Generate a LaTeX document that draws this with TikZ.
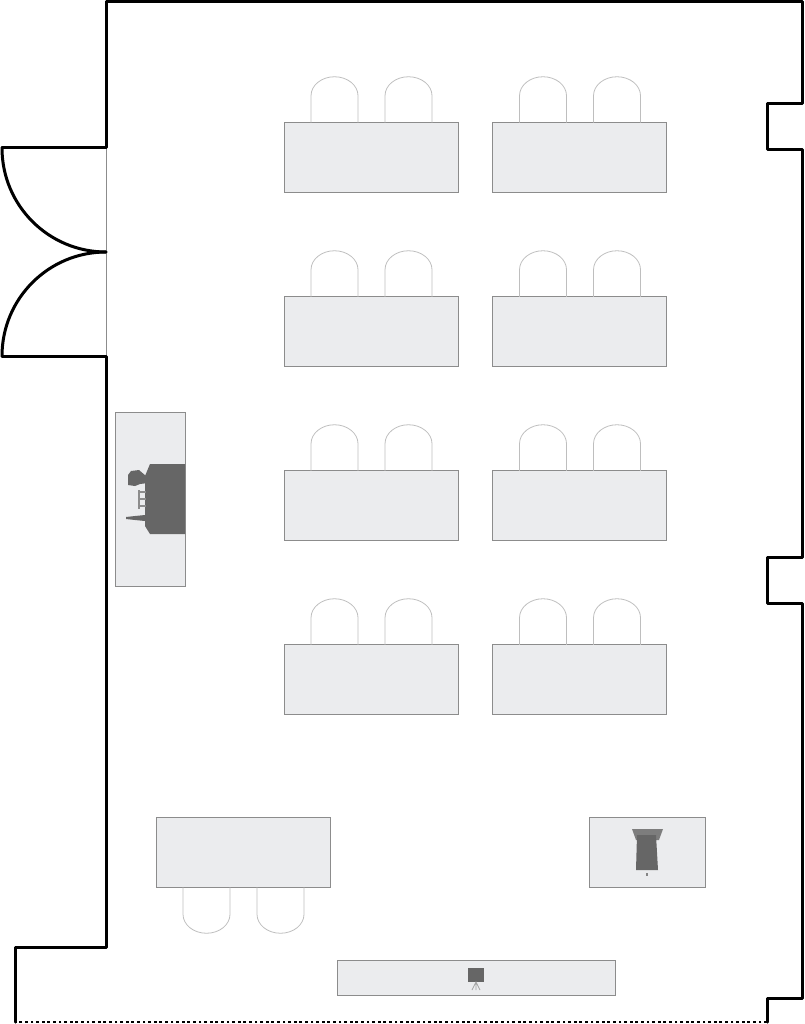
\documentclass[tikz,border=0pt]{standalone}
\usetikzlibrary{positioning}
\definecolor{tablefill}{HTML}{EBECEE}
\definecolor{tableedge}{HTML}{8C8C8C}
\definecolor{chairedge}{HTML}{BEBEBE}
\definecolor{icongrey}{HTML}{666666}
\tikzset{
  wall/.style = {draw=black, line width=3pt, line join=round, line cap=round},
  base/.style = {
    rectangle, draw=tableedge, fill=tablefill, line width=0.9pt,
    inner sep=0pt, outer sep=0pt
  },
  desk/.style = {base, minimum width=174pt, minimum height=69.5pt},
  chair/.style = {draw=chairedge, line width=0.8pt},
  icon/.style = {fill=icongrey, draw=none},
  chairs/.pic = {
    \draw[chair] (-60,0) -- (-60,-27) arc[start angle=180, end angle=0, x radius=23.5, y radius=-19] -- (-13,0);
    \draw[chair] (14,0) -- (14,-27) arc[start angle=180, end angle=0, x radius=23.5, y radius=-19] -- (61,0);
  },
}
\begin{document}
\begin{tikzpicture}[x=1pt, y=-1pt, node distance=174pt]
  \useasboundingbox (0,0) rectangle (804,1024);
  % walls
  \draw[tableedge, line width=0.9pt] (106,148) -- (106,356);
  \draw[wall] (2,148) -- (106,148) -- (106,1.5) -- (802.5,1.5) -- (802.5,104) -- (767,104) -- (767,150)
    -- (802.5,150) -- (802.5,557) -- (767,557) -- (767,603) -- (802.5,603) -- (802.5,998) -- (767,998) -- (767,1022);
  \draw[wall] (15,1022) -- (15,947) -- (106,947) -- (106,356) -- (2,356);
  \draw[black, line width=2.6pt, dash pattern=on 2.8pt off 2.8pt] (767,1022) -- (15,1022);
  % doors
  \draw[wall] (2,148) arc[start angle=180, end angle=270, x radius=104, y radius=-104];
  \draw[wall] (2,356) arc[start angle=180, end angle=90, x radius=104, y radius=-104];
  % desks
  \node (d11) [desk] at (371,157.5) {};
  \node (d12) [desk, right of=d11, node distance=208.5pt] {};
  \node (d21) [desk, below of=d11] {};
  \node (d22) [desk, right of=d21, node distance=208.5pt] {};
  \node (d31) [desk, below of=d21] {};
  \node (d32) [desk, right of=d31, node distance=208.5pt] {};
  \node (d41) [desk, below of=d31] {};
  \node (d42) [desk, right of=d41, node distance=208.5pt] {};
  \node (teacher) [desk] at (243,852.5) {};
  \node (side) [base, minimum width=69.5pt, minimum height=174pt] at (150.5,499) {};
  \node (lectern) [base, minimum width=116pt, minimum height=69.5pt] at (647,852.5) {};
  \node (screen) [base, minimum width=278pt, minimum height=35pt] at (476,977.5) {};
  % chairs
  \pic at (d11.north) {chairs};
  \pic at (d12.north) {chairs};
  \pic at (d21.north) {chairs};
  \pic at (d22.north) {chairs};
  \pic at (d31.north) {chairs};
  \pic at (d32.north) {chairs};
  \pic at (d41.north) {chairs};
  \pic at (d42.north) {chairs};
  \pic[yscale=-1] at (teacher.south) {chairs};
  % equipment on the side table
  \fill[icon] (150,464) -- (185,464) -- (185,534) -- (150,534) -- (145,526) -- (145,476) -- cycle;
  \fill[icon] (128,475) -- (131,471) -- (139,470) -- (146,476) -- (148,483) -- (140,484) -- (135,486) -- (128,485) -- cycle;
  \draw[icongrey!75, line width=2pt] (138,492) -- (146,492) (138,499) -- (146,499) (138,506) -- (146,506);
  \draw[icongrey!75, line width=2pt] (139,490) -- (139,509);
  \fill[icon] (126,517) -- (135,516) -- (145,515) -- (145,521) -- (135,520) -- (126,519) -- cycle;
  % lectern
  \fill[icongrey!85] (632,829) -- (663,829) -- (659,840) -- (636,840) -- cycle;
  \fill[icon] (637,835) -- (656,835) -- (658,870) -- (636,870) -- cycle;
  \fill[icongrey!80] (645.5,872.5) rectangle (647.5,876);
  % projection screen
  \fill[icon] (468,968) rectangle (484,982);
  \draw[icongrey!60, line width=0.8pt] (472,990) -- (476,982) -- (480,990) (476,982) -- (476,990);
\end{tikzpicture}
\end{document}
